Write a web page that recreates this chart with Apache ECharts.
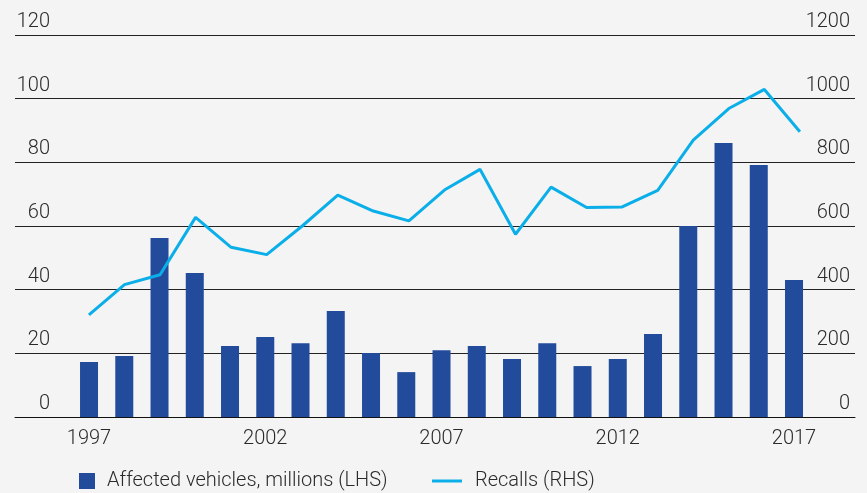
<!DOCTYPE html>
<html>
<head>
<meta charset="utf-8">
<script src="https://cdn.jsdelivr.net/npm/echarts@6/dist/echarts.min.js"></script>
<style>
  html, body { margin: 0; padding: 0; background: #f4f4f4; }
  #chart { width: 867px; height: 493px; }
</style>
</head>
<body>
<div id="chart"></div>
<script>
// Vehicle recalls per year
const years = [1997, 1998, 1999, 2000, 2001, 2002, 2003, 2004, 2005, 2006, 2007,
               2008, 2009, 2010, 2011, 2012, 2013, 2014, 2015, 2016, 2017];
const affectedVehicles = [17.3, 19.2, 56.2, 45.2, 22.3, 25.1, 23.2, 33.3, 20.1, 14.1, 21.0,
                          22.3, 18.2, 23.2, 16.0, 18.2, 26.1, 60.0, 86.1, 79.2, 43.0];
const recalls = [321, 416, 447, 627, 533, 510, 600, 697, 647, 616, 713,
                 778, 574, 722, 658, 660, 712, 870, 969, 1029, 896];
const yearLabels = [1997, 2002, 2007, 2012, 2017];

const barName = 'Affected vehicles, millions (LHS)';
const lineName = 'Recalls (RHS)';

const FONT = 'Roboto';
const TEXT = '#2a2a2a';
const BAR = '#234b9b';
const LINE = '#0aaee8';
const SIZE = 20;

const chart = echarts.init(document.getElementById('chart'), null, { renderer: 'canvas' });

const xBase = {
  type: 'value',
  splitLine: { show: false },
  axisTick: { show: false },
};

const labelFont = { fontSize: SIZE, fontFamily: FONT, fontWeight: 300, color: TEXT };

chart.setOption({
  backgroundColor: '#f4f4f4',
  animation: false,
  textStyle: { fontFamily: FONT, fontWeight: 300, color: TEXT },
  grid: { left: 15, right: 12, top: 35, bottom: 76, containLabel: false },
  legend: [
    {
      data: [{ name: barName, icon: 'rect' }],
      left: 79, top: 471, padding: 0,
      itemWidth: 16, itemHeight: 16, itemGap: 0,
      textStyle: Object.assign({}, labelFont, { padding: [0, 0, 0, 7] }),
    },
    {
      data: [{ name: lineName, icon: 'rect' }],
      left: 432, top: 471, padding: 0,
      itemWidth: 30, itemHeight: 3, itemGap: 0,
      textStyle: Object.assign({}, labelFont, { padding: [0, 0, 0, 8] }),
    }
  ],
  xAxis: [
    Object.assign({}, xBase, {
      min: 1994.90, max: 2018.73,
      axisLine: { show: true, lineStyle: { color: '#111', width: 1 } },
      axisLabel: Object.assign({
        show: true,
        customValues: yearLabels,
        formatter: v => String(v),
        margin: 12,
      }, labelFont),
    }),
    Object.assign({}, xBase, {
      min: 1994.92, max: 2018.55,
      show: false,
    })
  ],
  yAxis: [
    {
      type: 'value', min: 0, max: 120, interval: 20,
      axisLine: { show: false }, axisTick: { show: false },
      splitLine: { show: true, lineStyle: { color: '#222', width: 1 } },
      axisLabel: Object.assign({
        inside: true, align: 'right', verticalAlign: 'bottom', margin: 35,
        padding: [0, 0, 3, 0],
        formatter: v => String(v),
      }, labelFont),
    },
    {
      type: 'value', min: 0, max: 1200, interval: 200,
      position: 'right',
      axisLine: { show: false }, axisTick: { show: false },
      splitLine: { show: false },
      axisLabel: Object.assign({
        inside: true, align: 'right', verticalAlign: 'bottom', margin: 5,
        padding: [0, 0, 3, 0],
        formatter: v => String(v),
      }, labelFont),
    }
  ],
  series: [
    {
      name: barName,
      type: 'bar',
      xAxisIndex: 0, yAxisIndex: 0,
      barWidth: 18,
      itemStyle: { color: BAR },
      data: years.map((y, i) => [y, affectedVehicles[i]]),
    },
    {
      name: lineName,
      type: 'line',
      xAxisIndex: 1, yAxisIndex: 1,
      symbol: 'none',
      lineStyle: { color: LINE, width: 3 },
      itemStyle: { color: LINE },
      data: years.map((y, i) => [y, recalls[i]]),
    }
  ]
});
</script>
</body>
</html>
